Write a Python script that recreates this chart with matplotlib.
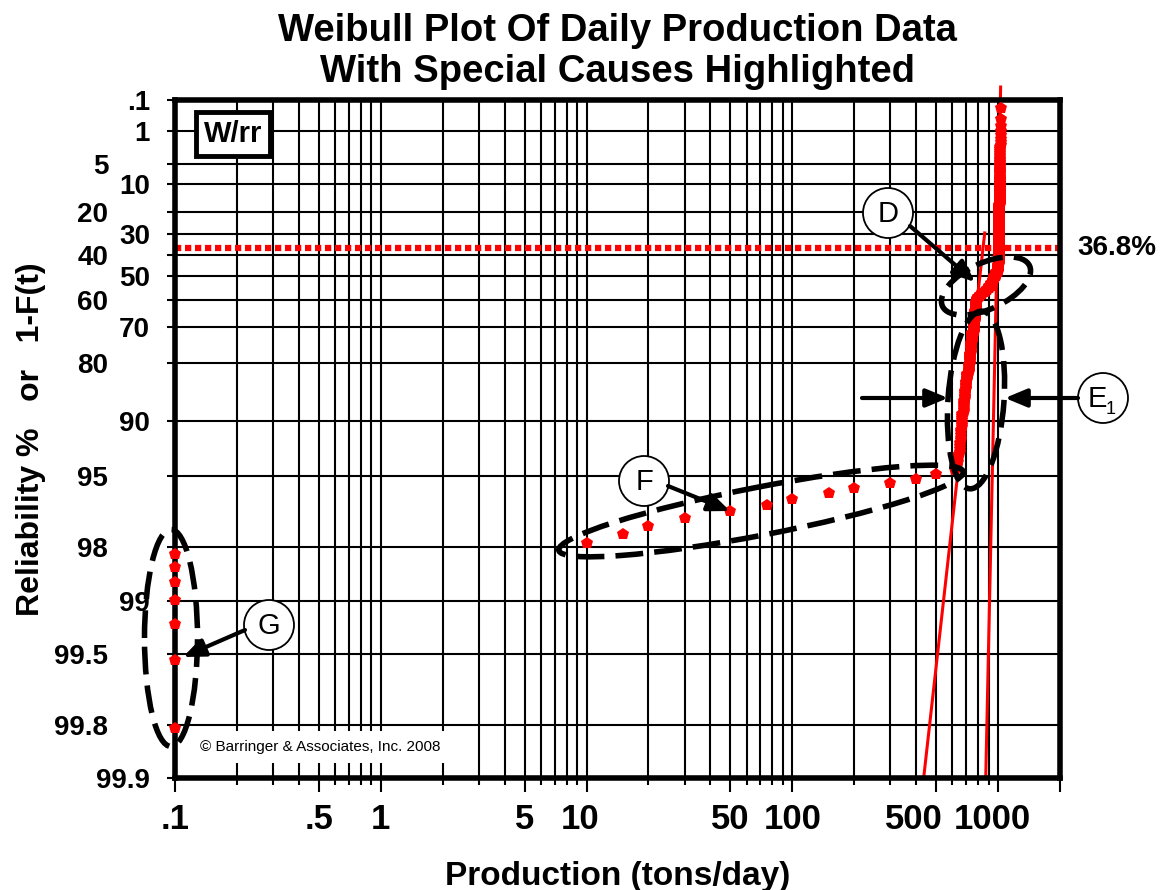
import numpy as np
import matplotlib.pyplot as plt
from matplotlib.patches import Ellipse, Circle
from matplotlib.transforms import ScaledTranslation

plt.rcParams['font.family'] = ['Liberation Sans', 'DejaVu Sans']

# one year of daily production (tons/day)
zero_days = 7                       # no production -> plotted at the .1 floor
special_days = [10, 15, 20, 30, 50, 75, 100, 150, 200, 300, 400, 500]
levels = [620, 630, 640, 650, 660, 670, 680, 690, 700, 710, 720, 730, 740, 750,
          760, 770, 780, 790, 800, 820, 840, 860, 880, 900, 920, 940, 960, 980,
          1000, 1010, 1015, 1020, 1025, 1030]
days = [1, 1, 3, 4, 5, 7, 7, 6, 6, 6, 7, 10, 10, 11,
        13, 14, 13, 5, 3, 3, 3, 3, 3, 4, 5, 5, 6, 7,
        12, 40, 60, 40, 15, 8]

# weibull fit lines (beta, eta, reliability % at upper end)
fit_beta = [54, 10.4]
fit_eta = [990, 845]
fit_r_top = [0.028, 29.5]

xticks = [0.1, 0.5, 1, 5, 10, 50, 100, 500, 1000, 2000]
xlabels = ['.1', '.5', '1', '5', '10', '50', '100', '500', '1000', '']
yticks = [0.1, 1, 5, 10, 20, 30, 40, 50, 60, 70, 80, 90, 95, 98, 99, 99.5, 99.8, 99.9]
ylabels = ['.1', '1', '5', '10', '20', '30', '40', '50', '60', '70', '80', '90',
           '95', '98', '99', '99.5', '99.8', '99.9']
shifted = ['5', '20', '40', '60', '80', '95', '98', '99.5', '99.8']

# median ranks (Benard)
prod = np.sort(np.concatenate([np.zeros(zero_days), special_days, np.repeat(levels, days)]))
n = len(prod)
rank = np.arange(1, n + 1)
rel = 100 * (1 - (rank - 0.3) / (n + 0.4))
xplot = np.maximum(prod, 0.1)


def fwd(r):
    with np.errstate(all='ignore'):
        return -np.log(-np.log(np.asarray(r) / 100.0))


def inv(t):
    return 100 * np.exp(-np.exp(-np.asarray(t)))


fig = plt.figure(figsize=(11.72, 8.9), dpi=100)
ax = fig.add_axes([175 / 1172, 1 - 778 / 890, 885 / 1172, 678 / 890])
ax.set_xscale('log')
ax.set_yscale('function', functions=(fwd, inv))
ax.set_xlim(0.1, 2000)
ax.set_ylim(99.9, 0.1)

minor = [m * 10.0 ** e for e in range(-1, 4) for m in range(2, 10)]
minor = [v for v in minor if v < 2000 and not any(abs(v - t) < 1e-9 for t in xticks)]
ax.set_xticks(xticks)
ax.set_xticklabels(xlabels, fontsize=25, fontweight='bold')
ax.set_xticks(minor, minor=True)
ax.set_xticklabels([], minor=True)
ax.set_yticks(yticks)
ax.set_yticklabels(ylabels, fontsize=20, fontweight='bold')
ax.yaxis.set_minor_locator(plt.NullLocator())

ax.grid(True, which='both', axis='x', color='k', lw=1.5)
ax.grid(True, which='major', axis='y', color='k', lw=1.5)
ax.tick_params(axis='x', which='major', length=10, width=1.5, pad=8)
ax.tick_params(axis='x', which='minor', length=5, width=1.5)
ax.tick_params(axis='y', which='major', length=6, width=1.5, pad=12)
for tk, lab in zip(ax.yaxis.get_major_ticks(), ylabels):
    if lab in shifted:
        tk.set_pad(42)
# nudge crowded x labels apart
for lbl in ax.get_xticklabels():
    if lbl.get_text() == '500':
        lbl.set_transform(lbl.get_transform() + ScaledTranslation(-22 / 100, 0, fig.dpi_scale_trans))
    elif lbl.get_text() in ('1000', '10'):
        lbl.set_transform(lbl.get_transform() + ScaledTranslation(-6 / 100, 0, fig.dpi_scale_trans))
for s in ax.spines.values():
    s.set_linewidth(4)
    s.set_zorder(5)

# 36.8% characteristic line
ax.axhline(36.8, color='red', lw=4.5, linestyle=(0, (1.0, 0.6)), zorder=3)
ax.text(1.02, 36.8, '36.8%', transform=ax.get_yaxis_transform(), fontsize=20,
        fontweight='bold', va='center', ha='left')

# fit lines
for b, eta, rtop in zip(fit_beta, fit_eta, fit_r_top):
    rr = np.array([99.9, rtop])
    xx = eta * (-np.log(rr / 100)) ** (1 / b)
    ax.plot(xx, rr, color='red', lw=2.2, zorder=4, clip_on=False)

ax.plot(xplot, rel, linestyle='none', marker='p', color='red', ms=9, mew=0,
        zorder=6, clip_on=False)

ax.text(0.0655, 0.95, 'W/rr', transform=ax.transAxes, fontsize=21, fontweight='bold',
        ha='center', va='center', zorder=7,
        bbox=dict(boxstyle='square,pad=0.28', fc='white', ec='k', lw=3.5))
ax.text(0.028, 0.046, '\u00a9 Barringer & Associates, Inc. 2008', transform=ax.transAxes,
        fontsize=11, ha='left', va='center', zorder=7,
        bbox=dict(boxstyle='square,pad=0.6', fc='white', ec='none'))

ax.set_xlabel('Production (tons/day)', fontsize=24, fontweight='bold', labelpad=18)
ax.set_ylabel('Reliability %   or   1-F(t)', fontsize=23, fontweight='bold', labelpad=6)
fig.suptitle('Weibull Plot Of Daily Production Data\nWith Special Causes Highlighted',
             fontsize=27.5, fontweight='bold', x=617 / 1172, y=0.985, linespacing=1.15)

# annotation layer in pixel coordinates
ov = fig.add_axes([0, 0, 1, 1], zorder=10)
ov.set_xlim(0, 1172)
ov.set_ylim(890, 0)
ov.axis('off')
ov.patch.set_alpha(0)

dash = (0, (5, 2))
ellipses = [((986, 286), 96, 46, -25),
            ((976, 400), 178, 56, -86),
            ((761, 511), 412, 48, -11),
            ((171, 638), 217, 53, -90)]
for c, w, h, a in ellipses:
    ov.add_patch(Ellipse(c, w, h, angle=a, fill=False, ec='k', lw=4, linestyle=dash))

circles = [((888, 213), 'D'), ((644, 481), 'F'), ((269, 625), 'G'), ((1103, 398), 'E')]
for c, lab in circles:
    ov.add_patch(Circle(c, 25, fc='white', ec='k', lw=1.3))
    dx = -6 if lab == 'E' else 0
    ov.text(c[0] + dx, c[1] + 1, lab, fontsize=21, ha='center', va='center')
ov.text(1106, 409, '1', fontsize=13, ha='left', va='center')

arrows = [((910, 226), (975, 282)), ((668, 486), (730, 511)), ((245, 630), (183, 657)),
          ((862, 398), (948, 398)), ((1078, 398), (1005, 398))]
for start, end in arrows:
    ov.annotate('', xy=end, xytext=start,
                arrowprops=dict(arrowstyle='-|>,head_length=0.6,head_width=0.25', lw=3,
                                color='k', shrinkA=0, shrinkB=0, mutation_scale=22))

fig.savefig('out.png', dpi=100)
